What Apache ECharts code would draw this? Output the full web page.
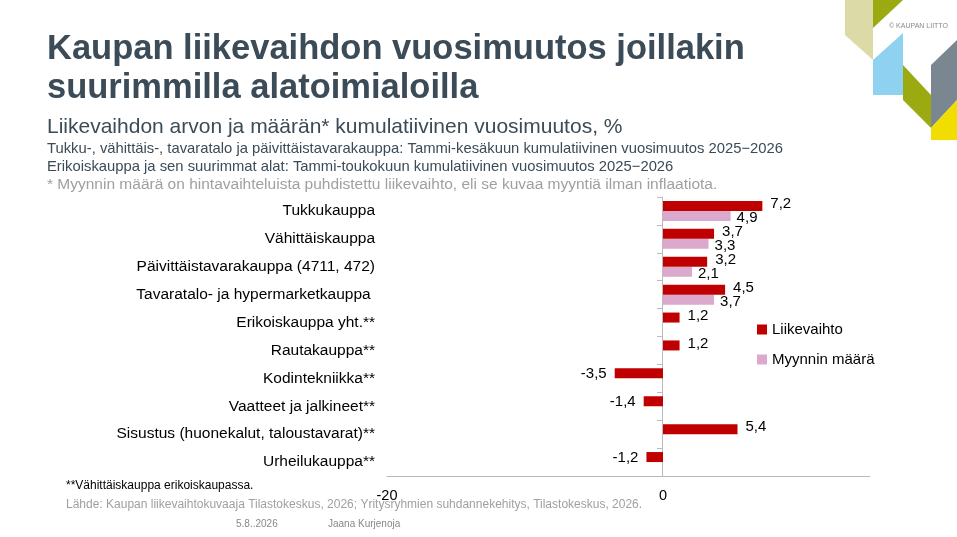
<!DOCTYPE html>
<html><head><meta charset="utf-8">
<script src="https://cdn.jsdelivr.net/npm/echarts@6/dist/echarts.min.js"></script>
<style>html,body{margin:0;padding:0;background:#fff}#c{width:957px;height:537px}</style>
</head><body><div id="c"></div>
<script>
// alatoimialat
const categories = ['Tukkukauppa', 'Vähittäiskauppa', 'Päivittäistavarakauppa (4711, 472)', 'Tavaratalo- ja hypermarketkauppa ', 'Erikoiskauppa yht.**', 'Rautakauppa**', 'Kodintekniikka**', 'Vaatteet ja jalkineet**', 'Sisustus (huonekalut, taloustavarat)**', 'Urheilukauppa**']
const liikevaihto = [7.2, 3.7, 3.2, 4.5, 1.2, 1.2, -3.5, -1.4, 5.4, -1.2]
const myynninMaara = [4.9, 3.3, 2.1, 3.7, null, null, null, null, null, null]

const fmt = v => String(v).replace('.', ',')
const dark = '#3b4b57'
const chart = echarts.init(document.getElementById('c'))

// negatiiviset arvot: teksti vasemmalle
const withSide = arr => arr.map(v => (v != null && v < 0) ? { value: v, label: { position: 'left', offset: [0, 1] } } : v)

// logon palat
const poly = (pts, fill) => ({ type: 'polygon', shape: { points: pts }, style: { fill } })

chart.setOption({
  textStyle: { fontFamily: 'Liberation Sans, Arial, sans-serif' },
  graphic: [
    poly([[845, 0], [873, 0], [873, 60], [845, 35]], '#dcdba8'),
    poly([[873, 0], [903, 0], [873, 28]], '#9aaa10'),
    poly([[873, 60], [903, 33], [903, 95], [873, 95]], '#8fd1f0'),
    poly([[903, 65], [931, 95], [931, 128], [903, 100]], '#9aaa10'),
    poly([[931, 65], [957, 40], [957, 100], [931, 128]], '#7a8790'),
    poly([[931, 128], [957, 100], [957, 140], [931, 140]], '#f2dd00'),
    { type: 'text', left: 889, top: 23, style: { text: '© KAUPAN LIITTO', fontSize: 7, fill: '#888' } },
    { type: 'text', left: 47, top: 30, style: { text: 'Kaupan liikevaihdon vuosimuutos joillakin\nsuurimmilla alatoimialoilla', fontSize: 34.5, fontWeight: 'bold', fill: dark, lineHeight: 39 } },
    { type: 'text', left: 47, top: 117, style: { text: 'Liikevaihdon arvon ja määrän* kumulatiivinen vuosimuutos, %', fontSize: 21, fill: dark } },
    { type: 'text', left: 47, top: 140, style: { text: 'Tukku-, vähittäis-, tavaratalo ja päivittäistavarakauppa: Tammi-kesäkuun kumulatiivinen vuosimuutos 2025−2026\nErikoiskauppa ja sen suurimmat alat: Tammi-toukokuun kumulatiivinen vuosimuutos 2025−2026', fontSize: 14.8, fill: dark, lineHeight: 18 } },
    { type: 'text', left: 47, top: 177, style: { text: '* Myynnin määrä on hintavaihteluista puhdistettu liikevaihto, eli se kuvaa myyntiä ilman inflaatiota.', fontSize: 15.5, fill: '#a0a0a0' } },
    { type: 'text', left: 66, top: 480, style: { text: '**Vähittäiskauppa erikoiskaupassa.', fontSize: 12, fill: '#000' } },
    { type: 'text', left: 66, top: 499, style: { text: 'Lähde: Kaupan liikevaihtokuvaaja Tilastokeskus, 2026; Yritysryhmien suhdannekehitys, Tilastokeskus, 2026.', fontSize: 12, fill: '#a0a0a0' } },
    { type: 'text', left: 236, top: 519, style: { text: '5.8..2026', fontSize: 10, fill: '#888' } },
    { type: 'text', left: 328, top: 519, style: { text: 'Jaana Kurjenoja', fontSize: 10, fill: '#888' } }
  ],
  legend: {
    orient: 'vertical', left: 752, top: 317, itemGap: 15,
    itemWidth: 10, itemHeight: 10, icon: 'rect',
    textStyle: { fontSize: 15, color: '#000' },
    data: ['Liikevaihto', 'Myynnin määrä']
  },
  grid: { left: 387, right: 87, top: 197, bottom: 61 },
  xAxis: {
    type: 'value', min: -20, max: 15, interval: 20,
    splitLine: { show: false },
    axisLine: { show: true, onZero: false, lineStyle: { color: '#bbb' } },
    axisTick: { show: false },
    axisLabel: { fontSize: 14.5, color: '#000', showMaxLabel: false, margin: 12 }
  },
  yAxis: [{
    type: 'category', data: categories, inverse: true,
    axisLine: { show: false }, axisTick: { show: false },
    axisLabel: { fontSize: 15.5, color: '#000', margin: 12 }
  }, {
    type: 'category', data: categories, inverse: true, position: 'left', offset: -275,
    axisLine: { show: true, lineStyle: { color: '#bbb' } },
    axisTick: { show: true, length: 5, lineStyle: { color: '#bbb' } },
    axisLabel: { show: false }
  }],
  series: [{
    name: 'Liikevaihto', type: 'bar', data: withSide(liikevaihto), barWidth: 10, barGap: '0%',
    itemStyle: { color: '#c00000' },
    label: { show: true, position: 'right', formatter: p => fmt(p.value), fontSize: 15, color: '#000', distance: 8, offset: [0, -2] },
    z: 3
  }, {
    name: 'Myynnin määrä', type: 'bar', data: myynninMaara, barWidth: 10,
    itemStyle: { color: '#dba9cc' },
    label: { show: true, position: 'right', formatter: p => fmt(p.value), fontSize: 15, color: '#000', distance: 6, offset: [0, 2] }
  }]
})
</script></body></html>
